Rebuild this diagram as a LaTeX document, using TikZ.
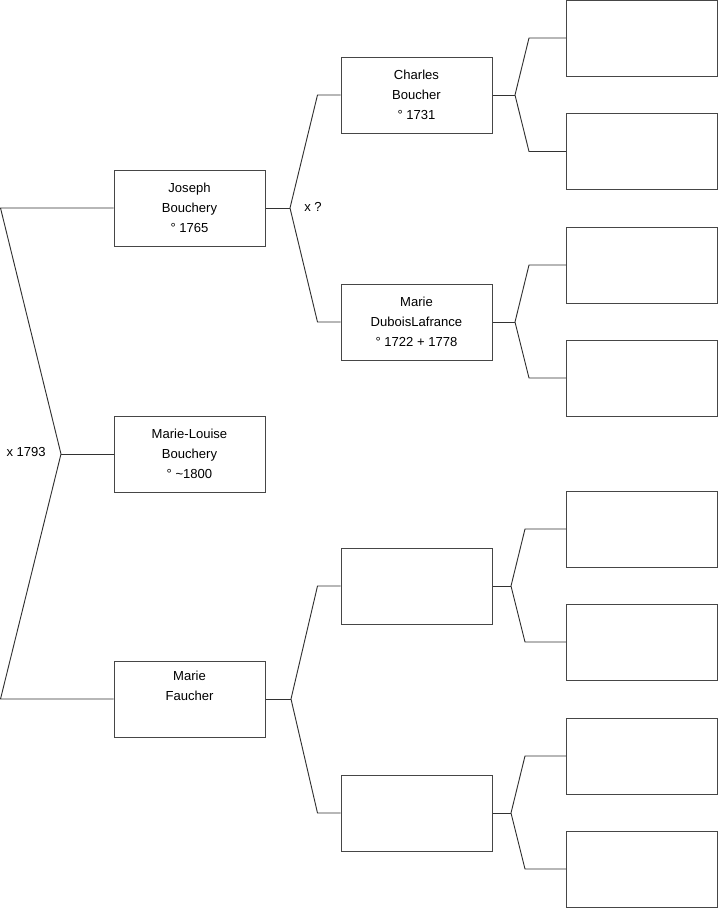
\documentclass[tikz,border=0pt]{standalone}
\usepackage{fontspec}
\setmainfont{Liberation Sans}
\usetikzlibrary{calc}
\definecolor{treeLine}{RGB}{50,50,50}
\definecolor{treeBox}{RGB}{70,70,70}

\begin{document}
\begin{tikzpicture}[
		x=0.75pt,y=-0.75pt,
		person/.style={
			draw=treeBox,
			line width=0.75pt,
			fill=white,
			minimum width=113.25pt,
			minimum height=57pt,
			inner sep=0pt,
			align=center,
			font=\fontsize{9.8}{15}\selectfont
		},
		link/.style={draw=treeLine,line width=0.7pt},
		union/.style={inner sep=0pt,font=\fontsize{9.8}{11}\selectfont}
	]
	\useasboundingbox (0,0) rectangle (719,908);

	% generation 1 and 2
	\node[person] (joseph) at (189.5,208) {Joseph\\Bouchery\\° 1765};
	\node[person] (mlouise) at (189.5,454) {Marie-Louise\\Bouchery\\° \textasciitilde1800};
	\node[person] (faucher) at (189.5,699) {Marie\\Faucher\\\strut};

	% generation 3
	\node[person] (charles) at (416.5,95) {Charles\\Boucher\\° 1731};
	\node[person] (dubois) at (416.5,322) {Marie\\DuboisLafrance\\° 1722 + 1778};
	\node[person] (pfaucher) at (416.5,586) {};
	\node[person] (mfaucher) at (416.5,813) {};

	% generation 4
	\foreach \n/\y in {1/38,2/151.5,3/265,4/378,5/529,6/642,7/756,8/869}
		\node[person] (anc\n) at (642,\y) {};

	% unions
	\coordinate (uRoot) at (61,454);
	\coordinate (uJoseph) at (290,208);
	\coordinate (uFaucher) at (291,699);
	\coordinate (uCharles) at (515,95);
	\coordinate (uDubois) at (515,322);
	\coordinate (uPfaucher) at (511,586);
	\coordinate (uMfaucher) at (511,813);

	\node[union,anchor=east] (mRoot) at (46,452) {x 1793};
	\node[union,anchor=west] (mJoseph) at (304,207) {x ?};

	\draw[link] (joseph.west) -- ++(-113,0) -- (uRoot) -- ($(faucher.west)+(-113,0)$) -- (faucher.west);
	\draw[link] (uRoot) -- (mlouise.west);

	\draw[link] (joseph.east) -- (uJoseph);
	\draw[link] (charles.west) -- ++(-23,0) -- (uJoseph) -- ($(dubois.west)+(-23,0)$) -- (dubois.west);
	\draw[link] (faucher.east) -- (uFaucher);
	\draw[link] (pfaucher.west) -- ++(-23,0) -- (uFaucher) -- ($(mfaucher.west)+(-23,0)$) -- (mfaucher.west);

	\draw[link] (charles.east) -- (uCharles);
	\draw[link] (anc1.west) -- ++(-37,0) -- (uCharles) -- ($(anc2.west)+(-37,0)$) -- (anc2.west);
	\draw[link] (dubois.east) -- (uDubois);
	\draw[link] (anc3.west) -- ++(-37,0) -- (uDubois) -- ($(anc4.west)+(-37,0)$) -- (anc4.west);
	\draw[link] (pfaucher.east) -- (uPfaucher);
	\draw[link] (anc5.west) -- ++(-41,0) -- (uPfaucher) -- ($(anc6.west)+(-41,0)$) -- (anc6.west);
	\draw[link] (mfaucher.east) -- (uMfaucher);
	\draw[link] (anc7.west) -- ++(-41,0) -- (uMfaucher) -- ($(anc8.west)+(-41,0)$) -- (anc8.west);
\end{tikzpicture}
\end{document}
